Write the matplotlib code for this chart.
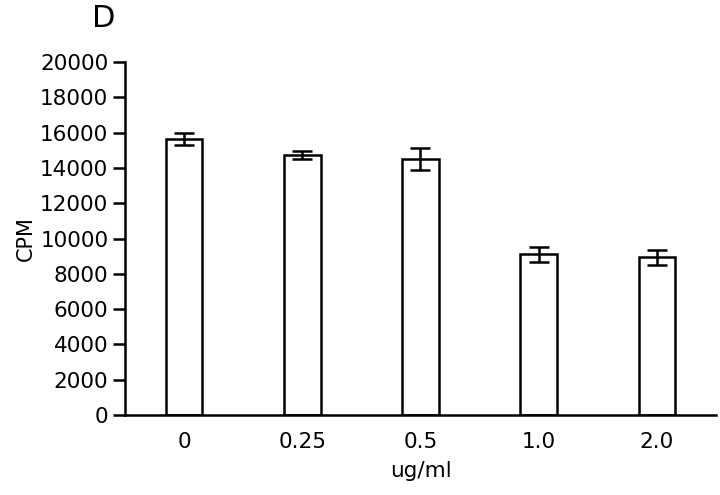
import numpy as np
import matplotlib
matplotlib.use('Agg')
import matplotlib.pyplot as plt

# данные с картинки
doses = ['0', '0.25', '0.5', '1.0', '2.0']
cpm = [15620, 14730, 14520, 9120, 8930]
cpm_err = [340, 225, 635, 425, 433]
y_ticks = [0, 2000, 4000, 6000, 8000, 10000, 12000, 14000, 16000, 18000, 20000]

plt.rcParams['font.family'] = ['DejaVu Sans']

fig = plt.figure(figsize=(7.2, 4.95), dpi=100)
ax = fig.add_axes([0.1736, 0.1616, 0.8208, 0.7131])

x = np.arange(len(doses))
ax.bar(x, cpm, width=0.31, color='white', edgecolor='black', linewidth=1.8,
       yerr=cpm_err, capsize=7,
       error_kw={'elinewidth': 1.8, 'capthick': 1.8, 'ecolor': 'black'})

ax.set_xlim(-0.5, 4.5)
ax.set_ylim(0, 20000)
ax.set_yticks(y_ticks)
ax.set_yticklabels([str(v) for v in y_ticks], fontsize=15.5)
ax.set_xticks(x)
ax.set_xticklabels(doses, fontsize=15.5)
ax.tick_params(axis='x', length=0, pad=12)
ax.tick_params(axis='y', length=9, width=1.8, pad=3)

for side in ['top', 'right']:
    ax.spines[side].set_visible(False)
for side in ['left', 'bottom']:
    ax.spines[side].set_linewidth(1.8)

ax.set_ylabel('CPM', fontsize=15, labelpad=3)
ax.set_xlabel('ug/ml', fontsize=15.5, labelpad=7)

fig.text(0.144, 0.962, 'D', fontsize=22, ha='center', va='center')

plt.savefig('out.png', dpi=100)
